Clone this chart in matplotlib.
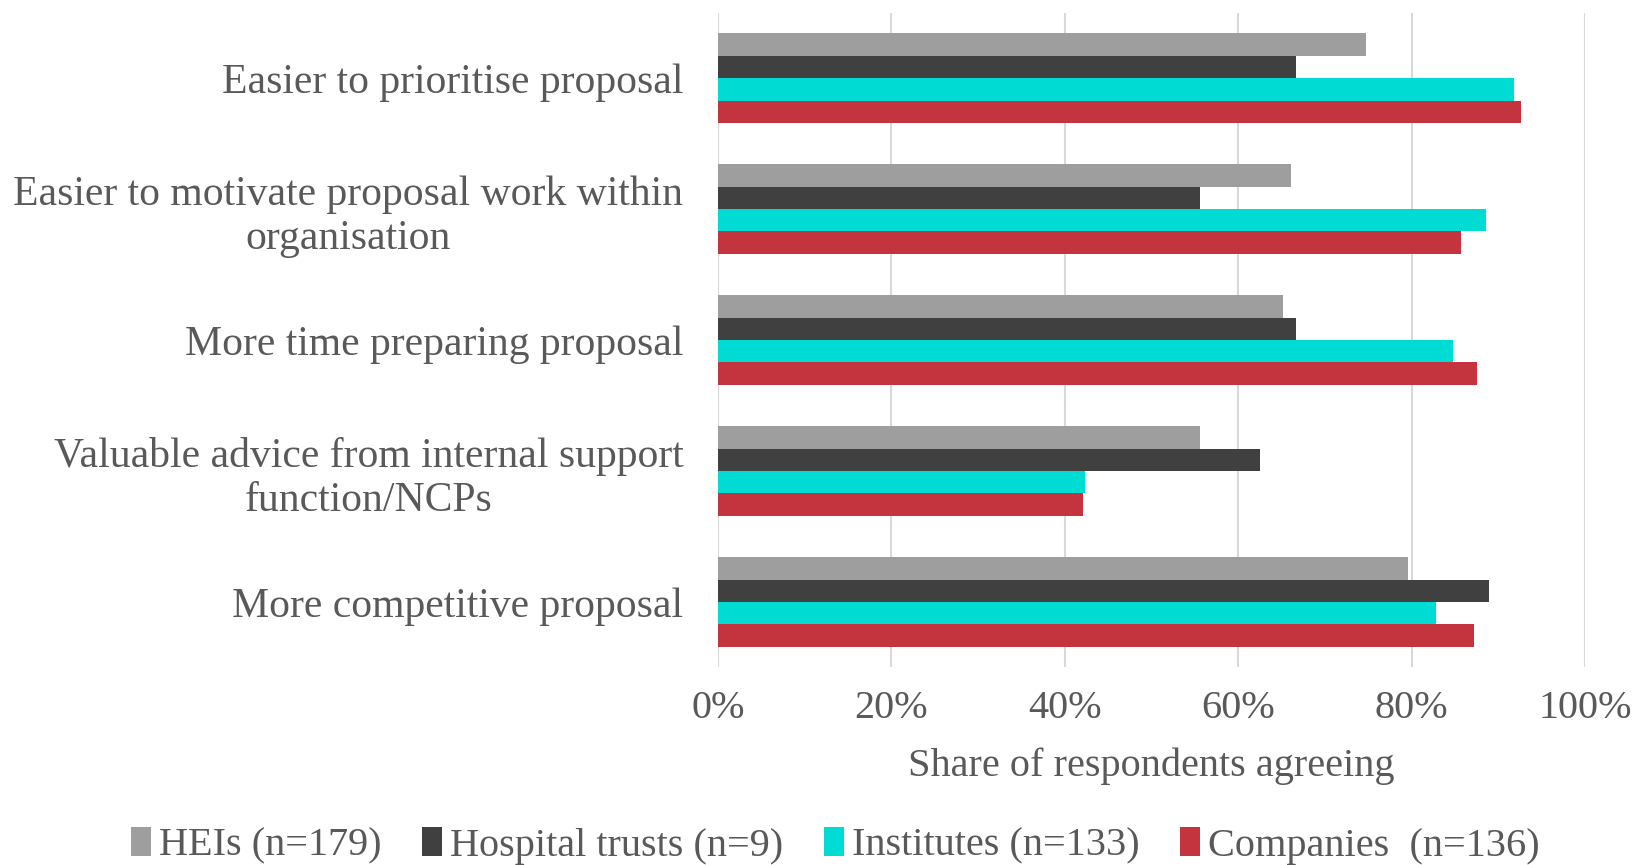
import numpy as np
import matplotlib.pyplot as plt

# Survey results: share agreeing, by respondent type
categories = [
    "Easier to prioritise proposal",
    "Easier to motivate proposal work within\norganisation",
    "More time preparing proposal",
    "Valuable advice from internal support\nfunction/NCPs",
    "More competitive proposal",
]
series_names = ["HEIs (n=179)", "Hospital trusts (n=9)",
                "Institutes (n=133)", "Companies  (n=136)"]
heis = [74.8, 66.1, 65.2, 55.6, 79.6]
hospital = [66.7, 55.6, 66.7, 62.5, 88.9]
institutes = [91.8, 88.6, 84.8, 42.3, 82.8]
companies = [92.6, 85.7, 87.5, 42.1, 87.2]
xticks = [0, 20, 40, 60, 80, 100]

colors = ["#9e9e9e", "#404040", "#00dcd4", "#c3343f"]
text_color = "#595959"

plt.rcParams["font.family"] = ["Liberation Serif", "DejaVu Serif"]

fig = plt.figure(figsize=(16.48, 8.65), dpi=100)
ax = fig.add_axes([0.4357, 0.2284, 0.526, 0.757])

y = np.arange(len(categories))
h = 0.171
for i, (vals, name, c) in enumerate(zip([heis, hospital, institutes, companies],
                                        series_names, colors)):
    ax.barh(y + (i - 1.5) * h, vals, height=h, color=c, label=name, zorder=3)

ax.set_ylim(len(categories) - 0.5, -0.5)
ax.set_xlim(0, 100)
ax.set_xticks(xticks)
ax.set_xticklabels([f"{t}%" for t in xticks])
ax.set_yticks(y)
ax.set_yticklabels(categories, multialignment="center")
ax.tick_params(axis="y", length=0, pad=25, labelsize=30, labelcolor=text_color)
ax.tick_params(axis="x", length=0, pad=16, labelsize=29, labelcolor=text_color)

ax.grid(axis="x", color="#d9d9d9", linewidth=1.5, zorder=0)
for s in ax.spines.values():
    s.set_visible(False)

ax.set_xlabel("Share of respondents agreeing", fontsize=29, color=text_color,
              labelpad=15)

ax.legend(loc="center", bbox_to_anchor=(0.507, 0.022), bbox_transform=fig.transFigure,
          ncol=4, frameon=False, fontsize=29, labelcolor=text_color,
          handlelength=0.5, handleheight=0.7, handletextpad=0.2, columnspacing=1.0)

fig.savefig("out.png", dpi=100)
